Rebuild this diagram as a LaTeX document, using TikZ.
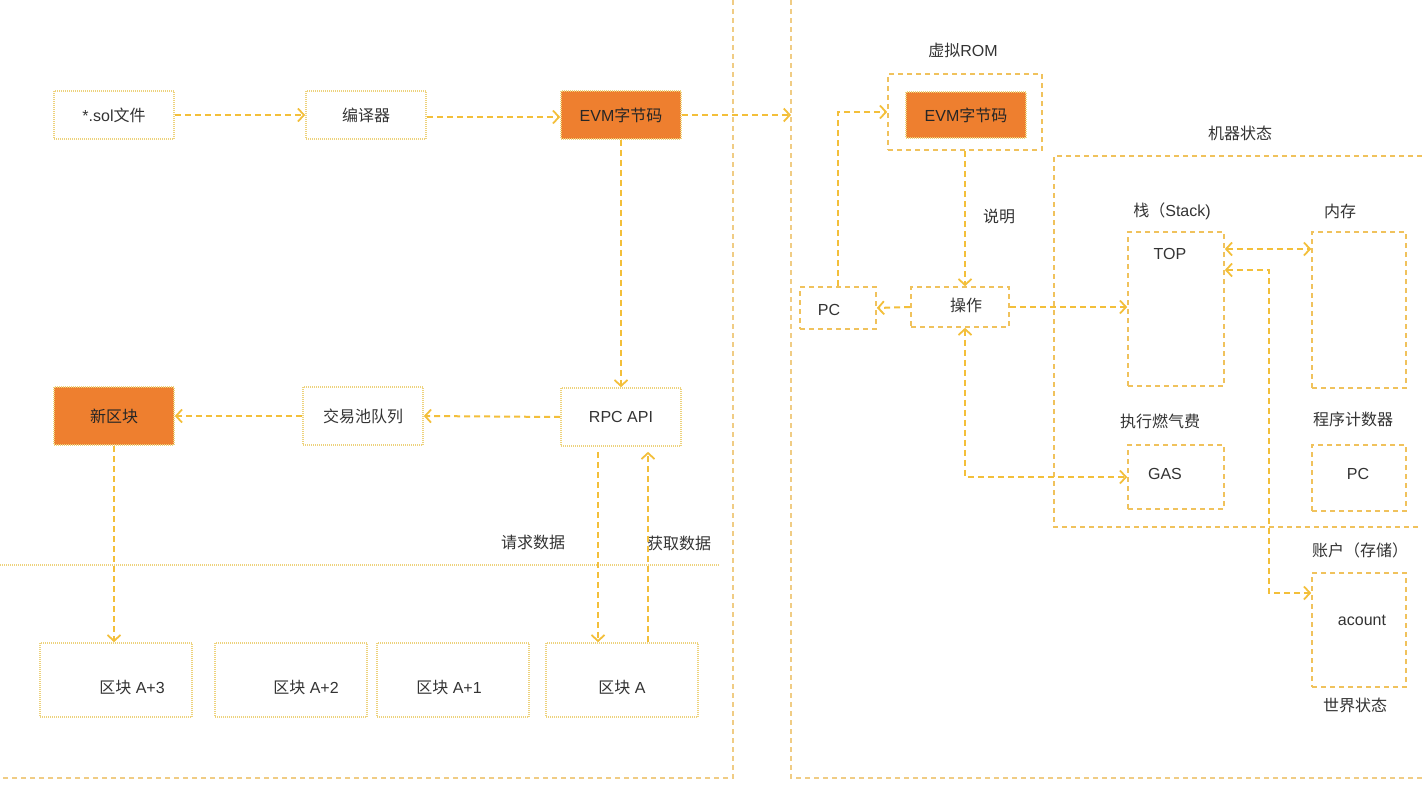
\documentclass[tikz,border=0pt]{standalone}
\usepackage{fontspec}
\setmainfont{Liberation Sans}
\newfontfamily\cjk{Noto Sans CJK SC}
\usetikzlibrary{arrows.meta,calc}
\definecolor{connc}{HTML}{F3BF3A}
\definecolor{rboxc}{HTML}{F0C25C}
\definecolor{dotc}{HTML}{EDD27C}
\definecolor{framec}{HTML}{F0CC84}
\definecolor{orangef}{HTML}{EE7F2F}
\definecolor{txtc}{HTML}{333333}
\begin{document}
\begin{tikzpicture}[x=1pt,y=-1pt,
  font=\fontsize{16}{19}\selectfont, text=txtc,
  lbox/.style={draw=dotc, line width=1.6pt, dash pattern=on 1pt off 1pt, inner sep=0pt},
  obox/.style={lbox, fill=orangef, text=black!85},
  rbox/.style={draw=rboxc, line width=1.6pt, dash pattern=on 5pt off 4pt, inner sep=0pt},
  tip/.tip={Straight Barb[length=6pt,width=13pt,line width=1.8pt]},
  conn/.style={draw=connc, line width=2pt, dash pattern=on 6pt off 4pt, -tip},
  bconn/.style={conn, tip-tip},
  frame/.style={draw=framec, line width=1.6pt, dash pattern=on 5pt off 4pt},
  lbl/.style={inner sep=0pt}
]
\useasboundingbox (0,0) rectangle (1422,800);

% frames
\draw[frame] (733,0) -- (733,778) -- (0,778);
\draw[frame] (791,0) -- (791,778) -- (1422,778);
\draw[draw=dotc, line width=1.6pt, dash pattern=on 1pt off 1pt] (0,565) -- (720,565);
\draw[rbox] (1422,156) -- (1054,156) -- (1054,527) -- (1422,527);

% left nodes
\node[lbox, minimum width=120pt, minimum height=48pt] (sol) at (114,115) {*.sol{\cjk 文件}};
\node[lbox, minimum width=120pt, minimum height=48pt] (comp) at (366,115) {{\cjk 编译器}};
\node[obox, minimum width=120pt, minimum height=48pt] (evm1) at (621,115) {EVM{\cjk 字节码}};
\node[lbox, minimum width=120pt, minimum height=58pt] (rpc) at (621,417) {RPC API};
\node[lbox, minimum width=120pt, minimum height=58pt] (pool) at (363,416) {{\cjk 交易池队列}};
\node[obox, minimum width=120pt, minimum height=58pt] (newb) at (114,416) {{\cjk 新区块}};

\node[lbox, minimum width=152pt, minimum height=74pt] (bA3) at (116,680) {};
\node[lbox, minimum width=152pt, minimum height=74pt] (bA2) at (291,680) {};
\node[lbox, minimum width=152pt, minimum height=74pt] (bA1) at (453,680) {};
\node[lbox, minimum width=152pt, minimum height=74pt] (bA) at (622,680) {};
\node[lbl] (tA3) at (132,688) {{\cjk 区块} A+3};
\node[lbl] (tA2) at (306,688) {{\cjk 区块} A+2};
\node[lbl] (tA1) at (449,688) {{\cjk 区块} A+1};
\node[lbl] (tA) at (622,688) {{\cjk 区块} A};

\node[lbl] (req) at (533,542) {{\cjk 请求数据}};
\node[lbl] (get) at (679,543) {{\cjk 获取数据}};

% left connectors
\coordinate (rin) at (791,115);
\draw[conn] (sol.east) -- (comp.west);
\draw[conn] ([yshift=-2pt]comp.east) -- ([yshift=-2pt]evm1.west);
\draw[conn] (evm1.east) -- (rin);
\draw[conn] (evm1.south) -- (rpc.north);
\draw[conn] (rpc.west) -- (pool.east);
\draw[conn] (pool.west) -- (newb.east);
\draw[conn] (newb.south) -- (newb.south |- bA3.north);
\draw[conn, shorten <=5pt] ([xshift=-23pt]rpc.south) -- ([xshift=-23pt]rpc.south |- bA.north);
\draw[conn, shorten >=5pt] ([xshift=27pt]rpc.south |- bA.north) -- ([xshift=27pt]rpc.south);

% right nodes
\node[lbl] (romlbl) at (963,50) {{\cjk 虚拟}ROM};
\node[rbox, minimum width=154pt, minimum height=76pt] (rom) at (965,112) {};
\node[obox, minimum width=120pt, minimum height=46pt] (evm2) at (966,115) {EVM{\cjk 字节码}};
\node[rbox, minimum width=76pt, minimum height=42pt] (pc1) at (838,308) {};
\node[lbl] (pc1t) at (829,310) {PC};
\node[rbox, minimum width=98pt, minimum height=40pt] (op) at (960,307) {};
\node[lbl] (opt) at (966,305) {{\cjk 操作}};
\node[lbl] (expl) at (999,216) {{\cjk 说明}};
\node[lbl] (msl) at (1240,133) {{\cjk 机器状态}};

\node[rbox, minimum width=96pt, minimum height=154pt] (stack) at (1176,309) {};
\node[lbl] (topt) at (1170,254) {TOP};
\node[lbl] (stl) at (1172,211) {{\cjk 栈（}Stack)};
\node[rbox, minimum width=94pt, minimum height=156pt] (mem) at (1359,310) {};
\node[lbl] (meml) at (1340,211) {{\cjk 内存}};
\node[rbox, minimum width=96pt, minimum height=64pt] (gas) at (1176,477) {};
\node[lbl] (gast) at (1165,474) {GAS};
\node[lbl] (gasl) at (1160,421) {{\cjk 执行燃气费}};
\node[rbox, minimum width=94pt, minimum height=66pt] (pc2) at (1359,478) {};
\node[lbl] (pc2t) at (1358,474) {PC};
\node[lbl] (pcl) at (1353,419) {{\cjk 程序计数器}};
\node[rbox, minimum width=94pt, minimum height=114pt] (acc) at (1359,630) {};
\node[lbl] (acct) at (1362,620) {acount};
\node[lbl] (accl) at (1360,550) {{\cjk 账户（存储）}};
\node[lbl] (wsl) at (1355,705) {{\cjk 世界状态}};

% right connectors
\draw[conn] (rom.south) -- (op.north -| rom.south);
\draw[conn] (op.west) -- (pc1.east);
\draw[conn] (pc1.north) |- (rom.west);
\draw[conn] (op.east) -- (stack.west |- op.east);
\draw[bconn] ([xshift=5pt]op.south) |- (gas.west);
\coordinate (t1) at ([yshift=60pt]stack.east);
\draw[bconn] (t1) -- (t1 -| mem.west);
\coordinate (t2) at ([yshift=39pt]stack.east);
\coordinate (a1) at ([yshift=37pt]acc.west);
\draw[bconn] (t2) -- ++(44,0) |- (a1);
\end{tikzpicture}
\end{document}
